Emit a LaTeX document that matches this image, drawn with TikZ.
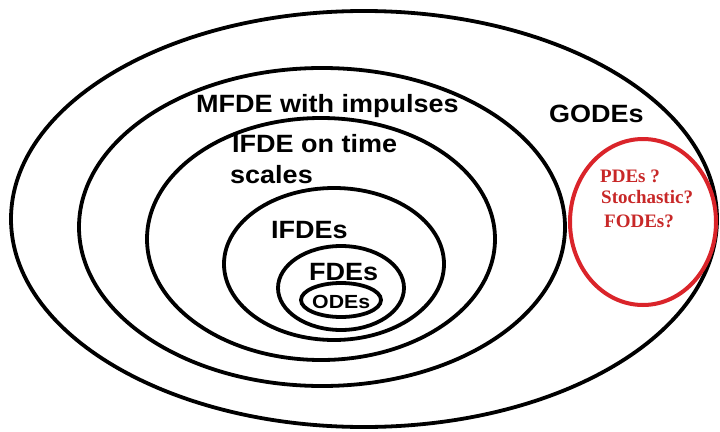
\documentclass[tikz,border=0pt]{standalone}
\usepackage{fontspec}
\setmainfont{Liberation Sans}
\newfontfamily\lblfont[FakeStretch=1.08]{Liberation Sans}
\newfontfamily\odefont[FakeStretch=1.12]{Liberation Sans}
\newfontfamily\redfont{Liberation Serif}
\definecolor{ringred}{RGB}{218,36,42}
\definecolor{textred}{RGB}{200,40,40}
\begin{document}
\begin{tikzpicture}[x=1pt,y=-1pt,
  ring/.style={draw=black,line width=3.8pt},
  redring/.style={draw=ringred,line width=4pt},
  lbl/.style={anchor=base west,inner sep=0pt,font=\lblfont\fontsize{25}{25}\selectfont\bfseries},
  rlbl/.style={anchor=base west,inner sep=0pt,text=textred,font=\redfont\fontsize{19}{19}\selectfont\bfseries}]
\useasboundingbox (0,0) rectangle (720,431);
\fill[white] (0,0) rectangle (720,431);
% rings
\draw[ring] (364,219) ellipse [x radius=353,y radius=208];
\draw[ring] (322,227) ellipse [x radius=243,y radius=159];
\draw[ring] (321,239) ellipse [x radius=174,y radius=121];
\draw[ring] (334,264) ellipse [x radius=110,y radius=76];
\draw[ring] (341,288) ellipse [x radius=63,y radius=42];
\draw[ring] (341,300) ellipse [x radius=40,y radius=17];
\draw[redring] (643,222) ellipse [x radius=73,y radius=83];
% labels
\node[lbl] (mfde) at (196,112) {MFDE with impulses};
\node[lbl] (godes) at (549,122) {GODEs};
\node[lbl] (ifdets) at (232,152) {IFDE on time};
\node[lbl] (scales) at (230,183) {scales};
\node[lbl] (ifdes) at (271,238) {IFDEs};
\node[lbl] (fdes) at (309,280) {FDEs};
\node[lbl,font=\odefont\fontsize{19}{19}\selectfont\bfseries] (odes) at (312,308) {ODEs};
\node[rlbl] (pdes) at (600,182) {PDEs ?};
\node[rlbl] (stoch) at (601,203) {Stochastic?};
\node[rlbl] (fodes) at (604,227) {FODEs?};
\end{tikzpicture}
\end{document}
